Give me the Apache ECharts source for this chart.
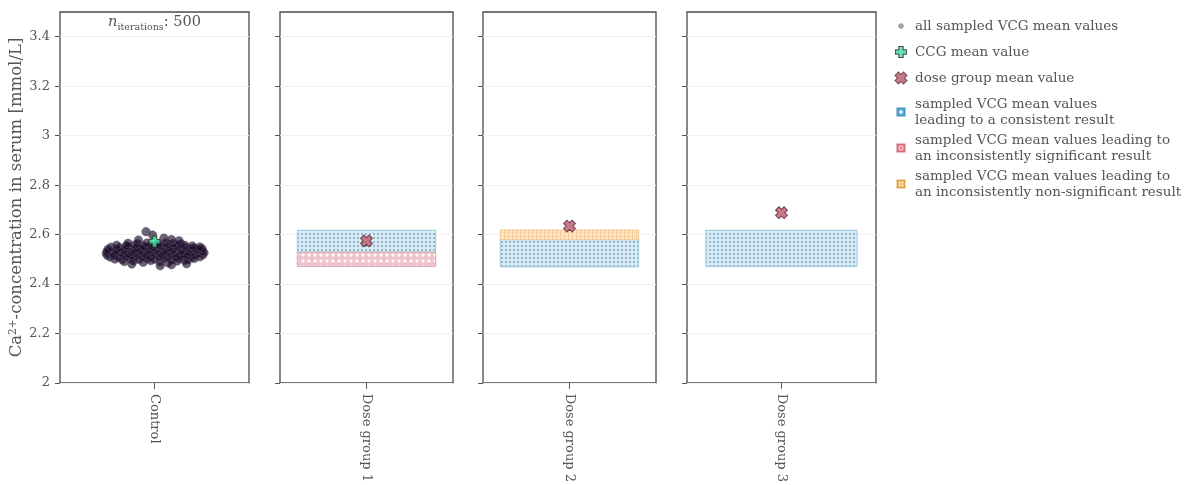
<!DOCTYPE html>
<html><head><meta charset="utf-8">
<script src="https://cdn.jsdelivr.net/npm/echarts@6/dist/echarts.min.js"></script>
<style>html,body{margin:0;padding:0;background:#fff}#c{width:1192px;height:485px}</style>
</head><body><div id="c"></div>
<script>
// ---------------- data ----------------
const categories = ['Control', 'Dose group 1', 'Dose group 2', 'Dose group 3'];
const yTickValues = [2, 2.2, 2.4, 2.6, 2.8, 3, 3.2, 3.4];
const nIterations = 500;
const ccgMean = 2.572;
const doseGroupMeans = [null, 2.574, 2.634, 2.688];
const consistentBands = [null, [2.528, 2.617], [2.469, 2.579], [2.470, 2.617]];
const significantBands = [null, [2.471, 2.528], null, null];
const nonSignificantBands = [null, null, [2.579, 2.618], null];
// sampled VCG means in the control panel: [jitter position, value]
const vcgSamples = [
 [-0.16,2.491],[-0.11,2.494],[-0.06,2.488],[-0.02,2.495],[0.03,2.490],[0.07,2.486],[0.12,2.493],[0.16,2.496],
 [-0.21,2.501],[-0.17,2.498],[-0.13,2.503],[-0.08,2.499],[-0.04,2.502],[0.00,2.500],[0.05,2.504],[0.09,2.498],[0.13,2.502],[0.18,2.500],[0.21,2.503],
 [-0.235,2.509],[-0.19,2.507],[-0.15,2.511],[-0.11,2.506],[-0.065,2.509],[-0.02,2.507],[0.025,2.510],[0.07,2.508],[0.115,2.506],[0.16,2.511],[0.20,2.508],[0.24,2.510],
 [-0.25,2.517],[-0.21,2.515],[-0.165,2.518],[-0.125,2.514],[-0.085,2.517],[-0.04,2.516],[0.0,2.519],[0.045,2.515],[0.09,2.518],[0.135,2.514],[0.175,2.517],[0.215,2.516],[0.255,2.518],
 [-0.255,2.525],[-0.22,2.523],[-0.18,2.526],[-0.14,2.522],[-0.10,2.525],[-0.055,2.524],[-0.015,2.527],[0.03,2.523],[0.07,2.526],[0.11,2.524],[0.155,2.522],[0.195,2.526],[0.235,2.524],[0.262,2.527],
 [-0.25,2.533],[-0.205,2.531],[-0.16,2.534],[-0.12,2.530],[-0.075,2.533],[-0.035,2.532],[0.01,2.535],[0.05,2.531],[0.095,2.534],[0.14,2.532],[0.18,2.530],[0.22,2.534],[0.255,2.532],
 [-0.245,2.541],[-0.20,2.539],[-0.155,2.542],[-0.11,2.538],[-0.07,2.541],[-0.025,2.540],[0.015,2.543],[0.06,2.539],[0.10,2.541],[0.145,2.538],[0.19,2.542],[0.23,2.540],[0.252,2.543],
 [-0.23,2.549],[-0.185,2.547],[-0.14,2.550],[-0.095,2.546],[-0.05,2.549],[-0.01,2.548],[0.035,2.551],[0.08,2.547],[0.125,2.550],[0.165,2.548],[0.21,2.546],[0.24,2.550],
 [-0.20,2.557],[-0.15,2.555],[-0.105,2.558],[-0.06,2.554],[-0.02,2.557],[0.025,2.556],[0.07,2.559],[0.115,2.555],[0.16,2.557],[0.20,2.554],
 [-0.14,2.565],[-0.09,2.563],[-0.04,2.566],[0.02,2.562],[0.06,2.566],[0.10,2.564],[0.14,2.562],
 [-0.045,2.612],[-0.01,2.598],[0.05,2.586],[0.09,2.580],[-0.085,2.578],[0.13,2.575],[0.03,2.474],[0.09,2.478],[-0.12,2.481],[0.17,2.482]
];
const legendNames = {
  all: 'all sampled VCG mean values',
  ccg: 'CCG mean value',
  dose: 'dose group mean value',
  cons: 'sampled VCG mean values\nleading to a consistent result',
  sig: 'sampled VCG mean values leading to\nan inconsistently significant result',
  nonsig: 'sampled VCG mean values leading to\nan inconsistently non-significant result'
};

// ---------------- styles ----------------
const FONT = 'DejaVu Serif';
const TXT = '#555';
const BAND_HALF = 0.4;
const gridBoxes = [
  {left: 60, width: 189}, {left: 280, width: 173}, {left: 483, width: 173}, {left: 687, width: 189}
];
const GRID_TOP = 12, GRID_HEIGHT = 371;

function mkCanvas(w, h, draw) {
  const c = document.createElement('canvas'); c.width = w; c.height = h;
  draw(c.getContext('2d')); return c;
}
const patBlue = mkCanvas(4, 4, g => {
  g.fillStyle = '#d6ecf6'; g.fillRect(0, 0, 4, 4);
  g.fillStyle = '#7f9db3'; g.beginPath(); g.arc(2, 2, 0.95, 0, Math.PI * 2); g.fill();
});
const patRed = mkCanvas(6, 6, g => {
  g.fillStyle = '#efc3cb'; g.fillRect(0, 0, 6, 6);
  g.fillStyle = '#fff6f7'; g.beginPath(); g.arc(3, 3, 1.7, 0, Math.PI * 2); g.fill();
});
const patOrange = mkCanvas(4, 4, g => {
  g.fillStyle = '#fde8cd'; g.fillRect(0, 0, 4, 4);
  g.fillStyle = '#f6c890'; g.fillRect(0, 0, 1, 4);
  g.fillStyle = '#f9d7ad'; g.fillRect(0, 0, 4, 1);
});

function plusPath(g, cx, cy, s, rot) {
  const a = s / 2, t = s * 0.2;
  const pts = [[-t,-a],[t,-a],[t,-t],[a,-t],[a,t],[t,t],[t,a],[-t,a],[-t,t],[-a,t],[-a,-t],[-t,-t]];
  g.beginPath();
  pts.forEach((p, i) => {
    const x = p[0] * Math.cos(rot) - p[1] * Math.sin(rot) + cx;
    const y = p[0] * Math.sin(rot) + p[1] * Math.cos(rot) + cy;
    i ? g.lineTo(x, y) : g.moveTo(x, y);
  });
  g.closePath();
}
function iconURL(draw) { return 'image://' + mkCanvas(28, 28, g => { g.scale(2, 2); draw(g); }).toDataURL(); }
const icons = {
  all: iconURL(g => { g.fillStyle = '#8c8c8c'; g.beginPath(); g.arc(7, 7, 2.8, 0, Math.PI * 2); g.fill(); }),
  ccg: iconURL(g => { plusPath(g, 7, 7, 11, 0); g.fillStyle = '#3fdc9c'; g.fill(); g.strokeStyle = '#1f2a28'; g.lineWidth = 1.1; g.stroke(); }),
  dose: iconURL(g => { plusPath(g, 7, 7, 12, Math.PI / 4); g.fillStyle = '#b9596b'; g.fill(); g.strokeStyle = '#5e2331'; g.lineWidth = 1.1; g.stroke(); }),
  cons: iconURL(g => { g.fillStyle = '#4ea4d2'; g.fillRect(3, 3, 8, 8); g.strokeStyle = '#2f7fae'; g.lineWidth = 0.8; g.strokeRect(3, 3, 8, 8);
    g.strokeStyle = '#fff'; g.lineWidth = 1.2; g.beginPath(); g.moveTo(7, 4.8); g.lineTo(7, 9.2); g.moveTo(4.8, 7); g.lineTo(9.2, 7); g.stroke(); }),
  sig: iconURL(g => { g.fillStyle = '#e37b89'; g.fillRect(3, 3, 8, 8); g.strokeStyle = '#c65566'; g.lineWidth = 0.8; g.strokeRect(3, 3, 8, 8);
    g.strokeStyle = '#fbe3e6'; g.lineWidth = 1; g.beginPath(); g.arc(7, 7, 2, 0, Math.PI * 2); g.stroke(); }),
  nonsig: iconURL(g => { g.fillStyle = '#f0b45a'; g.fillRect(3, 3, 8, 8); g.strokeStyle = '#d99536'; g.lineWidth = 0.8; g.strokeRect(3, 3, 8, 8);
    g.strokeStyle = '#fde7c6'; g.lineWidth = 1; g.strokeRect(5.3, 5.3, 3.4, 3.4); })
};

const PLUS_SYMBOL = 'path://M3,0 h4 v3 h3 v4 h-3 v3 h-4 v-3 h-3 v-4 h3 z';

// ---------------- option ----------------
const grids = [], xAxes = [], yAxes = [], series = [];
categories.forEach((cat, i) => {
  grids.push({left: gridBoxes[i].left, width: gridBoxes[i].width, top: GRID_TOP, height: GRID_HEIGHT,
    show: true, borderColor: '#4a4a4a', borderWidth: 1.3, backgroundColor: 'transparent'});
  xAxes.push({type: 'category', gridIndex: i, data: [cat], boundaryGap: true, position: 'bottom',
    axisLine: {show: false, onZero: false},
    axisTick: {show: true, alignWithLabel: true, length: 6, lineStyle: {color: '#555', width: 1}},
    axisLabel: {rotate: -90, margin: 11, color: TXT, fontFamily: FONT, fontSize: 13}});
  xAxes.push({type: 'value', gridIndex: i, min: -0.5, max: 0.5, show: false, axisLine: {onZero: false}});
  yAxes.push({type: 'value', gridIndex: i, min: 2, max: 3.5, interval: 0.2, position: 'left',
    name: i === 0 ? 'Ca{sup|2+}-concentration in serum [mmol/L]' : '',
    nameLocation: 'middle', nameGap: 33,
    nameTextStyle: {color: TXT, fontFamily: FONT, fontSize: 16.5,
      rich: {sup: {fontSize: 10.5, fontFamily: FONT, color: TXT, verticalAlign: 'top', padding: [0, 0, 8, 0]}}},
    axisLine: {show: false, onZero: false},
    axisTick: {show: true, length: 5, customValues: yTickValues, lineStyle: {color: '#555', width: 1}},
    axisLabel: {show: i === 0, customValues: yTickValues, margin: 10, color: TXT, fontFamily: FONT, fontSize: 13,
      formatter: v => String(v)},
    splitLine: {show: true, lineStyle: {color: '#f1f1f1', width: 1}}});
});

// control scatter
series.push({name: legendNames.all, type: 'scatter', xAxisIndex: 1, yAxisIndex: 0, data: vcgSamples,
  symbol: 'circle', symbolSize: 8.5, z: 2,
  itemStyle: {color: 'rgba(26,8,40,0.8)', borderColor: 'rgba(95,90,105,0.8)', borderWidth: 0.8}});
series.push({name: legendNames.ccg, type: 'scatter', xAxisIndex: 1, yAxisIndex: 0, data: [[0, ccgMean]],
  symbol: PLUS_SYMBOL, symbolSize: 11, z: 5,
  itemStyle: {color: '#3fdc9c', borderColor: '#1f2a28', borderWidth: 1}});

function bandSeries(name, bands, pattern, stroke, z) {
  bands.forEach((b, i) => {
    if (!b) return;
    series.push({name, type: 'custom', xAxisIndex: 2 * i + 1, yAxisIndex: i, z,
      encode: {x: 0, y: [1, 2]}, data: [[0, b[0], b[1]]],
      itemStyle: {color: stroke},
      renderItem: (params, api) => {
        const p1 = api.coord([-BAND_HALF, api.value(2)]);
        const p2 = api.coord([BAND_HALF, api.value(1)]);
        return {type: 'rect', shape: {x: p1[0], y: p1[1], width: p2[0] - p1[0], height: p2[1] - p1[1]},
          style: {fill: {image: pattern, repeat: 'repeat'}, stroke, lineWidth: 1}};
      }});
  });
}
bandSeries(legendNames.cons, consistentBands, patBlue, '#9ccbe0', 2);
bandSeries(legendNames.sig, significantBands, patRed, '#dba0ab', 2);
bandSeries(legendNames.nonsig, nonSignificantBands, patOrange, '#f2ca95', 2);

doseGroupMeans.forEach((m, i) => {
  if (m == null) return;
  series.push({name: legendNames.dose, type: 'scatter', xAxisIndex: 2 * i + 1, yAxisIndex: i, data: [[0, m]],
    symbol: PLUS_SYMBOL, symbolRotate: 45, symbolSize: 12, z: 5,
    itemStyle: {color: '#b9596b', borderColor: '#5e2331', borderWidth: 1}});
});

const legendText = {color: TXT, fontFamily: FONT, fontSize: 13.5, lineHeight: 16, padding: [0, 0, 0, 2]};
const option = {
  animation: false,
  backgroundColor: '#fff',
  grid: grids, xAxis: xAxes, yAxis: yAxes, series,
  legend: [
    {orient: 'vertical', left: 889, top: 13, itemWidth: 14, itemHeight: 14, itemGap: 10, selectedMode: false,
      textStyle: legendText,
      data: ['all', 'ccg', 'dose'].map(k => ({name: legendNames[k], icon: icons[k]}))},
    {orient: 'vertical', left: 889, top: 91, itemWidth: 14, itemHeight: 14, itemGap: 4, selectedMode: false,
      textStyle: legendText,
      data: ['cons', 'sig', 'nonsig'].map(k => ({name: legendNames[k], icon: icons[k]}))}
  ],
  graphic: [{type: 'text', x: gridBoxes[0].left + gridBoxes[0].width / 2, y: 22, z: 10,
    style: {text: '{n|n}{s|iterations}{c|: ' + nIterations + '}', align: 'center', verticalAlign: 'middle',
      rich: {
        n: {fontFamily: FONT, fontStyle: 'italic', fontSize: 14.5, fill: TXT, color: TXT, lineHeight: 16, verticalAlign: 'bottom'},
        s: {fontFamily: FONT, fontSize: 9.5, fill: TXT, color: TXT, lineHeight: 16, verticalAlign: 'bottom', padding: [0, 0, -3, 0]},
        c: {fontFamily: FONT, fontSize: 14.5, fill: TXT, color: TXT, lineHeight: 16, verticalAlign: 'bottom'}
      }}}]
};
const chart = echarts.init(document.getElementById('c'), null, {renderer: 'canvas'});
chart.setOption(option);
</script></body></html>
